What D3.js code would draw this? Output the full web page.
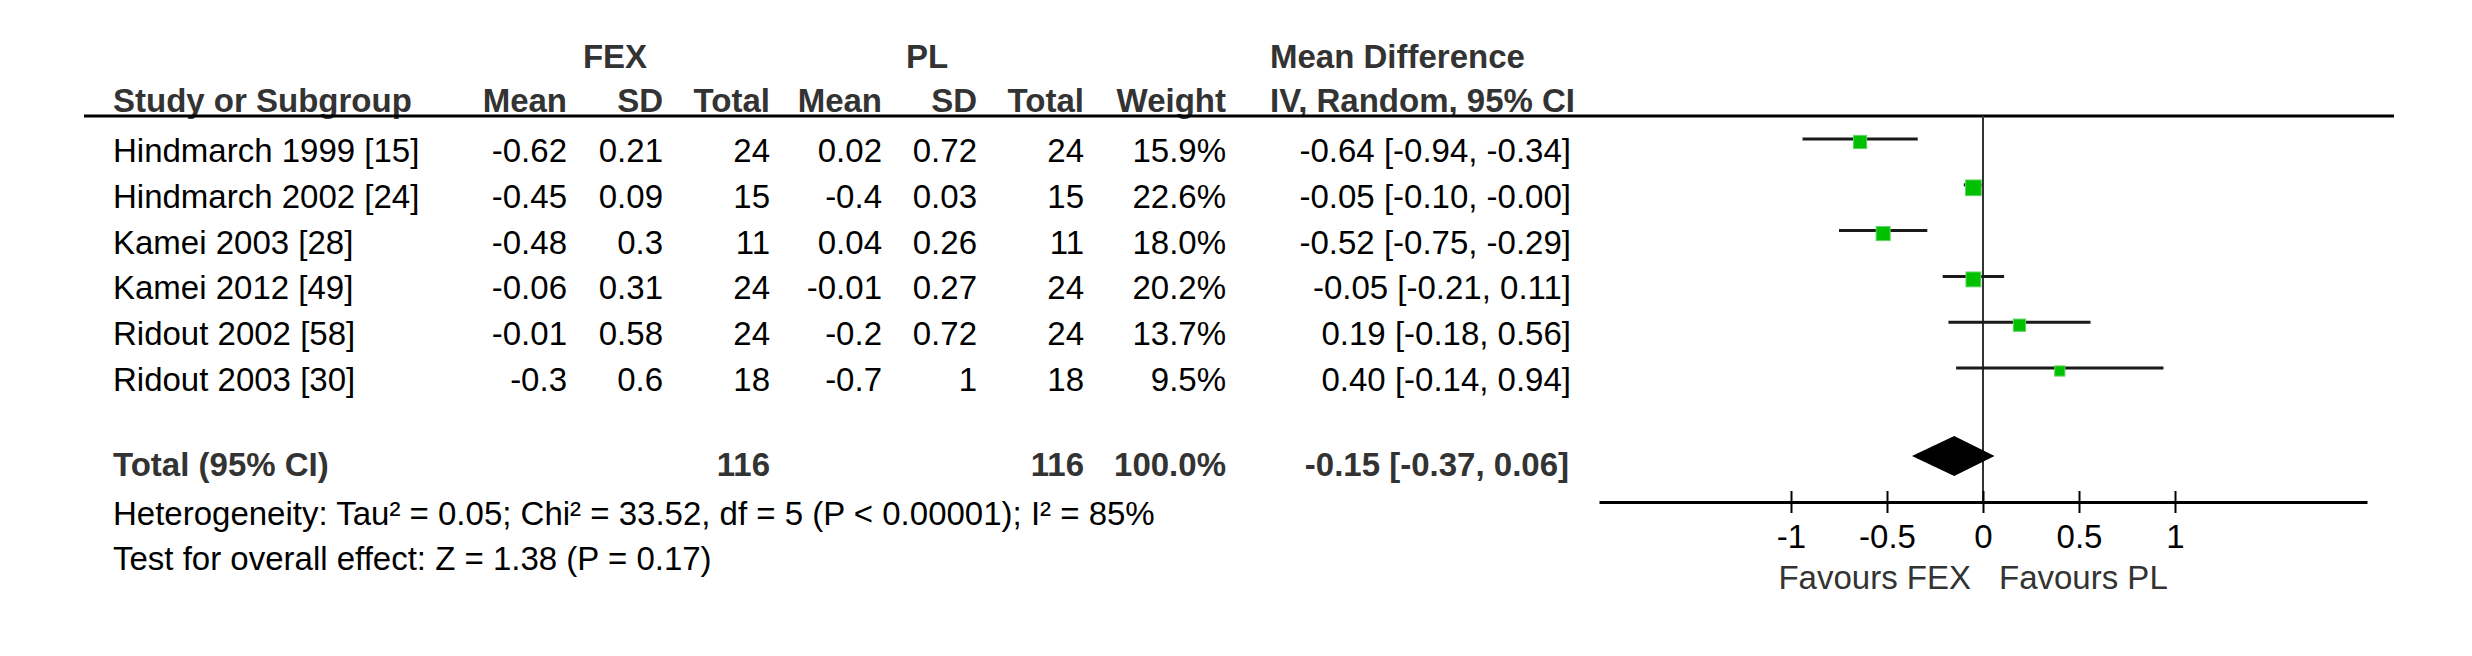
<!DOCTYPE html>
<html>
<head>
<meta charset="utf-8">
<script src="https://cdn.jsdelivr.net/npm/d3@7"></script>
<style>
  body { margin: 0; background: #fff; }
  svg text { font-family: "Liberation Sans", Arial, sans-serif; }
</style>
</head>
<body>
<div id="app"></div>
<script>
// study rows
const studies = ['Hindmarch 1999 [15]', 'Hindmarch 2002 [24]', 'Kamei 2003 [28]', 'Kamei 2012 [49]', 'Ridout 2002 [58]', 'Ridout 2003 [30]']
const fex_mean = [-0.62, -0.45, -0.48, -0.06, -0.01, -0.3]
const fex_sd = [0.21, 0.09, 0.3, 0.31, 0.58, 0.6]
const fex_total = [24, 15, 11, 24, 24, 18]
const pl_mean = [0.02, -0.4, 0.04, -0.01, -0.2, -0.7]
const pl_sd = [0.72, 0.03, 0.26, 0.27, 0.72, 1]
const pl_total = [24, 15, 11, 24, 24, 18]
const weights = [15.9, 22.6, 18.0, 20.2, 13.7, 9.5]
const md = [-0.64, -0.05, -0.52, -0.05, 0.19, 0.40]
const ci_low = [-0.94, -0.10, -0.75, -0.21, -0.18, -0.14]
const ci_high = [-0.34, -0.003, -0.29, 0.11, 0.56, 0.94]

// pooled result
const total_fex = 116
const total_pl = 116
const total_weight = 100.0
const total_md = -0.15
const total_low = -0.37
const total_high = 0.06

const heterogeneity = 'Heterogeneity: Tau² = 0.05; Chi² = 33.52, df = 5 (P < 0.00001); I² = 85%'
const overall = 'Test for overall effect: Z = 1.38 (P = 0.17)'
const tick_values = [-1, -0.5, 0, 0.5, 1]
const favours = ['Favours FEX', 'Favours PL']

const W = 2472, H = 656
const FS = 33
const svg = d3.select('#app').append('svg').attr('width', W).attr('height', H)

const rowY = (i) => 162 + i * 45.8
const f2 = (v) => v.toFixed(2)
const ciText = (m, l, h) => `${f2(m)} [${f2(l)}, ${f2(h)}]`

// column layout (right edges)
const cols = [
  { x: 567, head: 'Mean', vals: fex_mean },
  { x: 663, head: 'SD', vals: fex_sd },
  { x: 770, head: 'Total', vals: fex_total },
  { x: 882, head: 'Mean', vals: pl_mean },
  { x: 977, head: 'SD', vals: pl_sd },
  { x: 1084, head: 'Total', vals: pl_total },
  { x: 1226, head: 'Weight', vals: weights.map((w) => w.toFixed(1) + '%') }
]

const txt = (x, y, s, opts = {}) =>
  svg.append('text')
    .attr('x', x).attr('y', y)
    .attr('font-size', opts.size || FS)
    .attr('font-weight', opts.bold ? 'bold' : 'normal')
    .attr('text-anchor', opts.anchor || 'start')
    .attr('fill', opts.fill || '#000')
    .text(s)

// headers
const HEAD = '#333'
txt(615, 68, 'FEX', { bold: true, anchor: 'middle', fill: HEAD })
txt(927, 68, 'PL', { bold: true, anchor: 'middle', fill: HEAD })
txt(1270, 68, 'Mean Difference', { bold: true, fill: HEAD })
txt(113, 112, 'Study or Subgroup', { bold: true, fill: HEAD })
cols.forEach((c) => txt(c.x, 112, c.head, { bold: true, anchor: 'end', fill: HEAD }))
txt(1270, 112, 'IV, Random, 95% CI', { bold: true, fill: HEAD })

svg.append('line')
  .attr('x1', 84).attr('x2', 2394).attr('y1', 116).attr('y2', 116)
  .attr('stroke', '#000').attr('stroke-width', 3)

// study rows
studies.forEach((s, i) => {
  const y = rowY(i)
  txt(113, y, s)
  cols.forEach((c) => txt(c.x, y, String(c.vals[i]), { anchor: 'end' }))
  txt(1571, y, ciText(md[i], ci_low[i], ci_high[i]), { anchor: 'end' })
})

// total row
const ty = 476
txt(113, ty, 'Total (95% CI)', { bold: true, fill: HEAD })
txt(770, ty, String(total_fex), { bold: true, anchor: 'end', fill: HEAD })
txt(1084, ty, String(total_pl), { bold: true, anchor: 'end', fill: HEAD })
txt(1226, ty, total_weight.toFixed(1) + '%', { bold: true, anchor: 'end', fill: HEAD })
txt(1569, ty, ciText(total_md, total_low, total_high), { bold: true, anchor: 'end', fill: HEAD })

txt(113, 525, heterogeneity)
txt(113, 570, overall)

// forest plot
const x = d3.scaleLinear().domain([-2, 2]).range([1599, 2367])
const size = d3.scaleSqrt().domain([0, 100]).range([0, 33])
const axisY = 502

svg.append('line')
  .attr('x1', x(0)).attr('x2', x(0)).attr('y1', 116).attr('y2', axisY)
  .attr('stroke', '#333').attr('stroke-width', 2)

const g = svg.append('g').selectAll('g').data(studies).join('g')
g.append('line')
  .attr('x1', (d, i) => x(ci_low[i]))
  .attr('x2', (d, i) => x(ci_high[i]))
  .attr('y1', (d, i) => rowY(i) - 23)
  .attr('y2', (d, i) => rowY(i) - 23)
  .attr('stroke', '#1a1a1a').attr('stroke-width', 3)
g.append('rect')
  .attr('width', (d, i) => size(weights[i]))
  .attr('height', (d, i) => size(weights[i]))
  .attr('x', (d, i) => x(md[i]) - size(weights[i]) / 2)
  .attr('y', (d, i) => rowY(i) - 20 - size(weights[i]) / 2)
  .attr('fill', '#00c000')
  .attr('stroke', '#5fd35f').attr('stroke-width', 1)

// pooled diamond
const dy = 456, dh = 20
svg.append('path')
  .attr('d', `M${x(total_low)},${dy} L${x(total_md)},${dy - dh} L${x(total_high)},${dy} L${x(total_md)},${dy + dh} Z`)
  .attr('fill', '#000')

// axis
const axis = svg.append('g')
  .attr('transform', `translate(0,${axisY})`)
  .call(d3.axisBottom(x).tickValues(tick_values).tickFormat((d) => String(d)).tickSize(11).tickSizeOuter(0))
axis.select('.domain').attr('stroke', '#000').attr('stroke-width', 3)
axis.selectAll('.tick line').attr('y1', -11).attr('stroke', '#000').attr('stroke-width', 2)
axis.selectAll('.tick text')
  .attr('y', 46).attr('dy', null)
  .attr('font-size', FS).attr('font-family', '"Liberation Sans", Arial, sans-serif').attr('fill', '#000')

txt(x(0) - 12, 589, favours[0], { anchor: 'end', fill: HEAD })
txt(x(0) + 16, 589, favours[1], { fill: HEAD })
</script>
</body>
</html>
